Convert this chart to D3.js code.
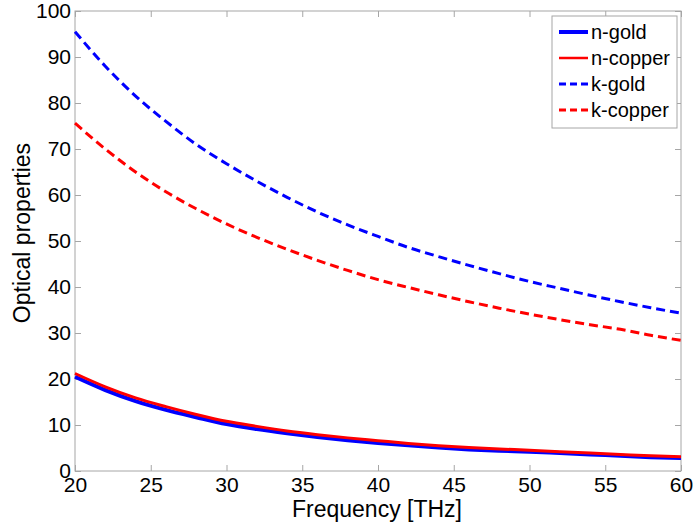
<!DOCTYPE html>
<html>
<head>
<meta charset="utf-8">
<script src="https://cdn.jsdelivr.net/npm/d3@7"></script>
<style>
html,body{margin:0;padding:0;background:#fff;}
svg text{font-family:"Liberation Sans",Arial,sans-serif;fill:#000;}
</style>
</head>
<body>
<svg id="chart" width="695" height="527"></svg>
<script>
const frequency = [20,22,24,26,28,30,32,34,36,38,40,42,44,46,48,50,52,54,56,58,60];
const nGold   = [20.5,17.6,15.2,13.3,11.7,10.2,9.1,8.2,7.4,6.7,6.1,5.6,5.1,4.7,4.4,4.2,3.9,3.6,3.3,3.0,2.8];
const nCopper = [21.2,18.3,15.9,14.0,12.3,10.8,9.7,8.7,7.9,7.2,6.6,6.0,5.5,5.1,4.8,4.5,4.2,3.9,3.6,3.3,3.1];
const kGold   = [95.5,88.0,81.5,76.0,71.0,66.8,63.0,59.5,56.3,53.5,51.0,48.6,46.6,44.7,42.9,41.2,39.7,38.2,36.8,35.5,34.3];
const kCopper = [75.6,70.0,65.0,60.7,57.0,53.7,50.8,48.2,45.8,43.6,41.6,39.9,38.3,36.8,35.4,34.1,32.9,31.8,30.8,29.5,28.4];
const xTicks = [20,25,30,35,40,45,50,55,60];
const yTicks = [0,10,20,30,40,50,60,70,80,90,100];
const seriesNames = ["n-gold","n-copper","k-gold","k-copper"];

const svg = d3.select("#chart");
const L = 75, R = 681, T = 11, B = 471;
const x = d3.scaleLinear().domain([20,60]).range([L,R]);
const y = d3.scaleLinear().domain([0,100]).range([B,T]);
const axisColor = "#a6a6a6";

// frame
svg.append("rect").attr("x",L).attr("y",T).attr("width",R-L).attr("height",B-T)
  .attr("fill","none").attr("stroke",axisColor).attr("stroke-width",1);

function styleAxis(g){
  g.select(".domain").remove();
  g.selectAll(".tick line").attr("stroke",axisColor);
  g.selectAll(".tick text").style("font-size","21px").attr("fill","#000");
}
// bottom axis (ticks inward)
svg.append("g").attr("transform",`translate(0,${B})`)
  .call(d3.axisBottom(x).tickValues(xTicks).tickSizeInner(-6).tickSizeOuter(0).tickPadding(6).tickFormat(d3.format("d")))
  .call(styleAxis);
// top axis ticks
svg.append("g").attr("transform",`translate(0,${T})`)
  .call(d3.axisTop(x).tickValues(xTicks).tickSizeInner(-6).tickSizeOuter(0).tickFormat(""))
  .call(styleAxis);
// left axis
svg.append("g").attr("transform",`translate(${L},0)`)
  .call(d3.axisLeft(y).tickValues(yTicks).tickSizeInner(-6).tickSizeOuter(0).tickPadding(4).tickFormat(d3.format("d")))
  .call(styleAxis);
// right axis ticks
svg.append("g").attr("transform",`translate(${R},0)`)
  .call(d3.axisRight(y).tickValues(yTicks).tickSizeInner(-6).tickSizeOuter(0).tickFormat(""))
  .call(styleAxis);

const series = [
  {name:seriesNames[0], vals:nGold,   color:"#0000ff", width:4,   dash:null},
  {name:seriesNames[1], vals:nCopper, color:"#ff0000", width:3,   dash:null},
  {name:seriesNames[2], vals:kGold,   color:"#0000ff", width:3,   dash:"9,5"},
  {name:seriesNames[3], vals:kCopper, color:"#ff0000", width:3,   dash:"9,5"}
];
const line = d3.line().x((d,i)=>x(frequency[i])).y(d=>y(d)).curve(d3.curveMonotoneX);
series.forEach(s=>{
  svg.append("path").datum(s.vals).attr("d",line)
    .attr("fill","none").attr("stroke",s.color).attr("stroke-width",s.width)
    .attr("stroke-dasharray",s.dash);
});

// axis labels
svg.append("text").attr("x",377).attr("y",517).attr("text-anchor","middle")
  .style("font-size","23px").text("Frequency [THz]");
svg.append("text").attr("transform","translate(30,233) rotate(-90)").attr("text-anchor","middle")
  .style("font-size","23px").text("Optical properties");

// legend
const lg = svg.append("g");
lg.append("rect").attr("x",552).attr("y",16).attr("width",125).attr("height",112)
  .attr("fill","#fff").attr("stroke",axisColor).attr("stroke-width",1);
series.forEach((s,i)=>{
  const cy = 32 + i*26;
  lg.append("line").attr("x1",559).attr("x2",588).attr("y1",cy).attr("y2",cy)
    .attr("stroke",s.color).attr("stroke-width",s.name==="n-gold"?4:(s.dash?3:2.5))
    .attr("stroke-dasharray",s.dash?"7,4":null);
  lg.append("text").attr("x",591).attr("y",cy).attr("dy","0.35em")
    .style("font-size","20px").text(s.name);
});
</script>
</body>
</html>
